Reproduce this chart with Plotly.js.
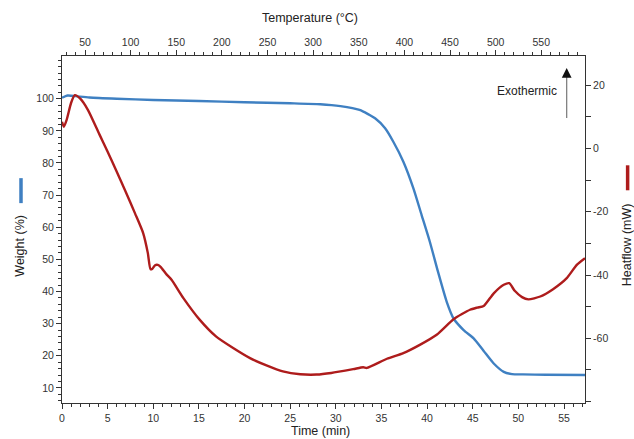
<!DOCTYPE html>
<html>
<head>
<meta charset="utf-8">
<script src="https://cdn.plot.ly/plotly-3.0.1.min.js"></script>
<style>html,body{margin:0;padding:0;background:#fff;}#chart{width:634px;height:439px;}</style>
</head>
<body>
<div id="chart"></div>
<script>
// Weight (%) vs time (min)
var weightTime = [0, 0.6, 1.5, 3, 6, 10, 15, 20, 25, 28.3, 30.5, 32.6, 34.3, 35.4, 36.3, 37.4, 38.5, 39.4, 40.3, 41.2, 42.15, 42.9, 44.0, 45.1, 46.2, 47.3, 48.4, 49.3, 50.5, 53, 57.3];
var weightPct  = [100.3, 101.0, 100.8, 100.4, 100.0, 99.6, 99.3, 98.9, 98.6, 98.3, 97.7, 96.5, 93.9, 90.8, 86.6, 80.4, 72.1, 63.8, 55.5, 46.1, 36.8, 31.6, 28.0, 25.4, 21.5, 17.6, 15.0, 14.3, 14.2, 14.1, 14.0];

// Heatflow (mW) vs time (min)
var heatTime = [0, 0.2, 0.5, 1.0, 1.4, 2.0, 2.85, 4.1, 5.0, 6.0, 7.0, 8.0, 8.9, 9.4, 9.7, 9.9, 10.2, 10.5, 10.8, 11.45, 12.0, 13.3, 15.1, 16.9, 18.75, 20.6, 22.4, 24.2, 26.1, 27.9, 29.5, 31.9, 33.0, 33.4, 35.6, 37.4, 39.2, 41.05, 42.9, 44.7, 45.5, 46.2, 47.3, 48.4, 49.0, 49.6, 50.4, 51.1, 52.4, 53.8, 55.3, 56.4, 57.3];
var heatflow = [8.5, 6.9, 9.0, 14.5, 16.9, 15.8, 12.2, 4.5, -1.0, -7.3, -13.8, -20.5, -26.8, -33.0, -38.2, -38.0, -36.9, -36.8, -37.4, -39.8, -41.5, -47.3, -54.2, -59.5, -63.1, -66.3, -68.6, -70.5, -71.4, -71.5, -71.0, -69.8, -69.2, -69.4, -66.5, -64.7, -62.1, -58.9, -54.0, -51.0, -50.3, -49.8, -45.8, -43.1, -42.6, -45.0, -47.0, -47.7, -46.8, -44.5, -41.0, -36.8, -34.7];

// Axis ticks / labels
var timeTicks = [0, 5, 10, 15, 20, 25, 30, 35, 40, 45, 50, 55];
var tempTicks = [50, 100, 150, 200, 250, 300, 350, 400, 450, 500, 550];
var weightTicks = [10, 20, 30, 40, 50, 60, 70, 80, 90, 100];
var heatTicks = [-60, -40, -20, 0, 20];
var heatTickLabels = ['-60', '-40', '-20', '0', '20'];

var blue = '#3f80c2';
var red = '#ae1c1c';
var axisColor = '#333333';
var tickFont = {family: 'Liberation Sans, Arial, sans-serif', size: 10.5, color: '#333333'};
var titleFont = {family: 'Liberation Sans, Arial, sans-serif', size: 12.5, color: '#222222'};

var traces = [
  {x: weightTime, y: weightPct, type: 'scatter', mode: 'lines', xaxis: 'x', yaxis: 'y',
   line: {color: blue, width: 2.4, shape: 'spline', smoothing: 0.6}, name: 'Weight (%)', hoverinfo: 'x+y'},
  {x: heatTime, y: heatflow, type: 'scatter', mode: 'lines', xaxis: 'x', yaxis: 'y2',
   line: {color: red, width: 2.4, shape: 'spline', smoothing: 0.6}, name: 'Heatflow (mW)', hoverinfo: 'x+y'},
  {x: [], y: [], type: 'scatter', mode: 'lines', xaxis: 'x2', yaxis: 'y', showlegend: false, hoverinfo: 'skip'}
];

var common = {showline: true, linecolor: axisColor, linewidth: 1, ticks: 'outside', tickcolor: axisColor,
  ticklen: 5, tickwidth: 1, showgrid: false, zeroline: false, tickfont: tickFont, fixedrange: true};

var layout = {
  width: 634, height: 439,
  margin: {l: 62, r: 49, t: 56, b: 36.3, pad: 0},
  paper_bgcolor: '#ffffff', plot_bgcolor: '#ffffff',
  showlegend: false,
  xaxis: Object.assign({}, common, {range: [0, 57.3], tickmode: 'array', tickvals: timeTicks,
    minor: {tickmode: 'linear', tick0: 0, dtick: 1, ticklen: 3, tickcolor: axisColor, ticks: 'outside'}}),
  xaxis2: Object.assign({}, common, {range: [24.8, 597.9], overlaying: 'x', side: 'top', anchor: 'y',
    tickmode: 'array', tickvals: tempTicks,
    minor: {tickmode: 'linear', tick0: 0, dtick: 10, ticklen: 3, tickcolor: axisColor, ticks: 'outside'}}),
  yaxis: Object.assign({}, common, {range: [5.3, 113.3], tickmode: 'array', tickvals: weightTicks,
    minor: {tickmode: 'linear', tick0: 0, dtick: 2, ticklen: 3, tickcolor: axisColor, ticks: 'outside'}}),
  yaxis2: Object.assign({}, common, {range: [-80.5, 29.3], overlaying: 'y', side: 'right', anchor: 'x',
    tickmode: 'array', tickvals: heatTicks, ticktext: heatTickLabels,
    minor: {tickmode: 'linear', tick0: 0, dtick: 10, ticklen: 5, tickcolor: axisColor, ticks: 'outside'}}),
  shapes: [
    {type: 'line', xref: 'paper', yref: 'paper', x0: -0.0784, x1: -0.0784, y0: 0.576, y1: 0.648,
     line: {color: blue, width: 3.5}},
    {type: 'line', xref: 'paper', yref: 'paper', x0: 1.0815, x1: 1.0815, y0: 0.613, y1: 0.685,
     line: {color: red, width: 3.5}},
    {type: 'line', xref: 'paper', yref: 'paper', x0: 0.965, x1: 0.965, y0: 0.821, y1: 0.94,
     line: {color: '#777777', width: 1.2}}
  ],
  annotations: [
    {text: 'Temperature (°C)', xref: 'paper', yref: 'paper', x: 0.474, y: 1.1087, showarrow: false,
     xanchor: 'center', yanchor: 'middle', font: titleFont},
    {text: 'Time (min)', xref: 'paper', yref: 'paper', x: 0.495, y: -0.082, showarrow: false,
     xanchor: 'center', yanchor: 'middle', font: titleFont},
    {text: 'Weight (%)', xref: 'paper', yref: 'paper', x: -0.0793, y: 0.452, showarrow: false,
     textangle: -90, xanchor: 'center', yanchor: 'middle', font: titleFont},
    {text: 'Heatflow (mW)', xref: 'paper', yref: 'paper', x: 1.0803, y: 0.4577, showarrow: false,
     textangle: -90, xanchor: 'center', yanchor: 'middle', font: titleFont},
    {text: 'Exothermic', xref: 'paper', yref: 'paper', x: 0.889, y: 0.898, showarrow: false,
     xanchor: 'center', yanchor: 'middle', font: {family: 'Liberation Sans, Arial, sans-serif', size: 12, color: '#222222'}},
    {text: '', xref: 'paper', yref: 'paper', x: 0.965, y: 0.9654, ax: 0, ay: 10, axref: 'pixel', ayref: 'pixel',
     showarrow: true, arrowhead: 2, arrowsize: 1.3, arrowwidth: 1.5, arrowcolor: '#111111'}
  ]
};

Plotly.newPlot('chart', traces, layout, {displayModeBar: false, staticPlot: true});
</script>
</body>
</html>
